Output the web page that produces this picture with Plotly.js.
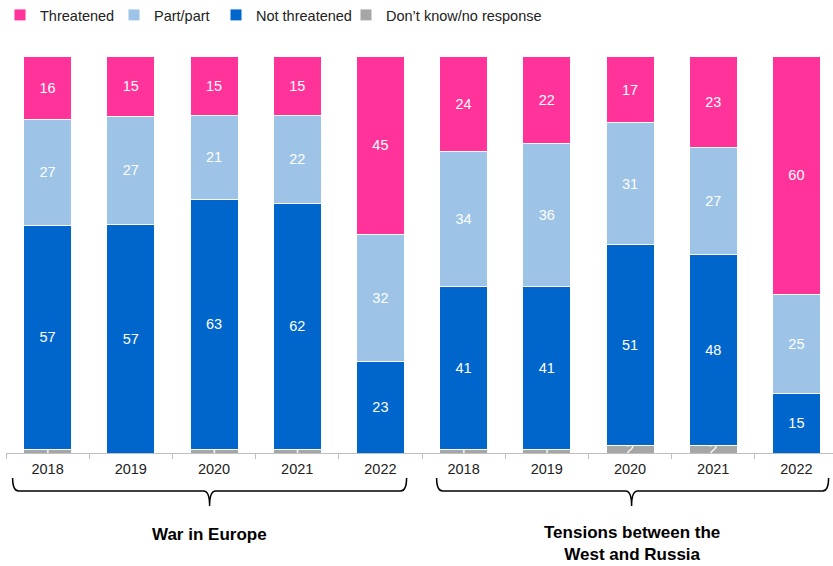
<!DOCTYPE html>
<html><head><meta charset="utf-8">
<script src="https://cdn.plot.ly/plotly-3.0.1.min.js"></script>
<style>body{margin:0;padding:0;background:#fff}#chart{width:833px;height:566px}</style>
</head><body><div id="chart"></div>
<script>
const categories = ["2018","2019","2020","2021","2022","2018","2019","2020","2021","2022"];
const groups = ["War in Europe", "Tensions between the<br>West and Russia"];
const dontKnow     = [1, 0, 1, 1, 0, 1, 1, 2, 2, 0];
const notThreat    = [57, 57, 63, 62, 23, 41, 41, 51, 48, 15];
const partPart     = [27, 27, 21, 22, 32, 34, 36, 31, 27, 25];
const threatened   = [16, 15, 15, 15, 45, 24, 22, 17, 23, 60];

const xs = categories.map((c,i)=>i);
const font = "Liberation Sans, Arial, sans-serif";
function trace(name, vals, color, leg){
  return {
    type:'bar', name:name, x:xs, y:vals, marker:{color:color, line:{color:'#fff', width:1}},
    width:0.577, text: vals.map(v=> v>0 ? String(v) : ''), textposition:'inside',
    insidetextanchor:'middle', textangle:0, constraintext:'none',
    textfont:{color:'#fff', size:14.5, family:font}, hoverinfo:'name+y', legend:leg, cliponaxis:false
  };
}
const data = [
  trace("Don\u2019t know/no response", dontKnow, '#A6A6A6', 'legend4'),
  trace("Not threatened", notThreat, '#0066CC', 'legend3'),
  trace("Part/part", partPart, '#9DC3E6', 'legend2'),
  trace("Threatened", threatened, '#FF3399', 'legend'),
  {type:'scatter', x:[0], y:[0], xaxis:'x2', mode:'markers', marker:{opacity:0}, showlegend:false, hoverinfo:'skip'}
];
// pixel helpers for decorative layout
const pxX = p => (p - 48) / 83.2;
const pxY = p => (453 - p) / 397;
function bracket(x0, xc, x1){
  const yT = pxY(478), yM = pxY(491), yB = pxY(506);
  return {type:'path', xref:'x', yref:'paper', line:{color:'#000', width:1.5},
    path:`M${pxX(x0)},${yT} Q${pxX(x0)},${yM} ${pxX(x0+6)},${yM} L${pxX(xc-6)},${yM} Q${pxX(xc)},${yM} ${pxX(xc)},${yB} Q${pxX(xc)},${yM} ${pxX(xc+6)},${yM} L${pxX(x1-6)},${yM} Q${pxX(x1)},${yM} ${pxX(x1)},${yT}`};
}
function leg(px){
  return {orientation:'h', x:px/833, xref:'container', xanchor:'left', y:1 - 15/566, yref:'container', yanchor:'middle',
    font:{size:14.5, family:font, color:'#222'}, bgcolor:'rgba(0,0,0,0)'};
}
const xr = [-0.5, -0.5 + 827/83.2];
const layout = {
  width:833, height:566, paper_bgcolor:'#fff', plot_bgcolor:'#fff',
  margin:{l:6, r:0, t:56, b:113, autoexpand:false},
  barmode:'stack', barnorm:'percent',
  font:{family:font, size:14.5, color:'#222'},
  showlegend:true,
  legend:leg(0), legend2:leg(114), legend3:leg(216), legend4:leg(346),
  xaxis:{range:xr, tickvals:xs, ticktext:categories, ticks:'', showgrid:false, zeroline:false,
    showline:true, linecolor:'#BFBFBF', linewidth:1, tickfont:{size:14.5, family:font, color:'#222'},
    ticklabelstandoff:3, fixedrange:true},
  xaxis2:{overlaying:'x', range:xr, tickvals:[-0.5,0.5,1.5,2.5,3.5,4.5,5.5,6.5,7.5,8.5,9.5],
    ticktext:Array(11).fill(''), ticks:'outside', ticklen:5, tickcolor:'#BFBFBF', showgrid:false,
    zeroline:false, showline:false, side:'bottom', anchor:'y', showticklabels:false, fixedrange:true},
  yaxis:{range:[0,100.05], visible:false, fixedrange:true},
  shapes:[bracket(13,210,407), bracket(437,632,829)],
  annotations:[
    {xref:'x', yref:'paper', x:pxX(210), y:pxY(534), text:'<b>'+groups[0]+'</b>', showarrow:false,
      font:{size:17, family:font, color:'#000'}, xanchor:'center', yanchor:'middle'},
    {xref:'x', yref:'paper', x:pxX(632), y:pxY(543), text:'<b>'+groups[1]+'</b>', showarrow:false,
      font:{size:17, family:font, color:'#000'}, xanchor:'center', yanchor:'middle', align:'center'}
  ]
};
Plotly.newPlot('chart', data, layout, {displayModeBar:false, staticPlot:true});
</script></body></html>
